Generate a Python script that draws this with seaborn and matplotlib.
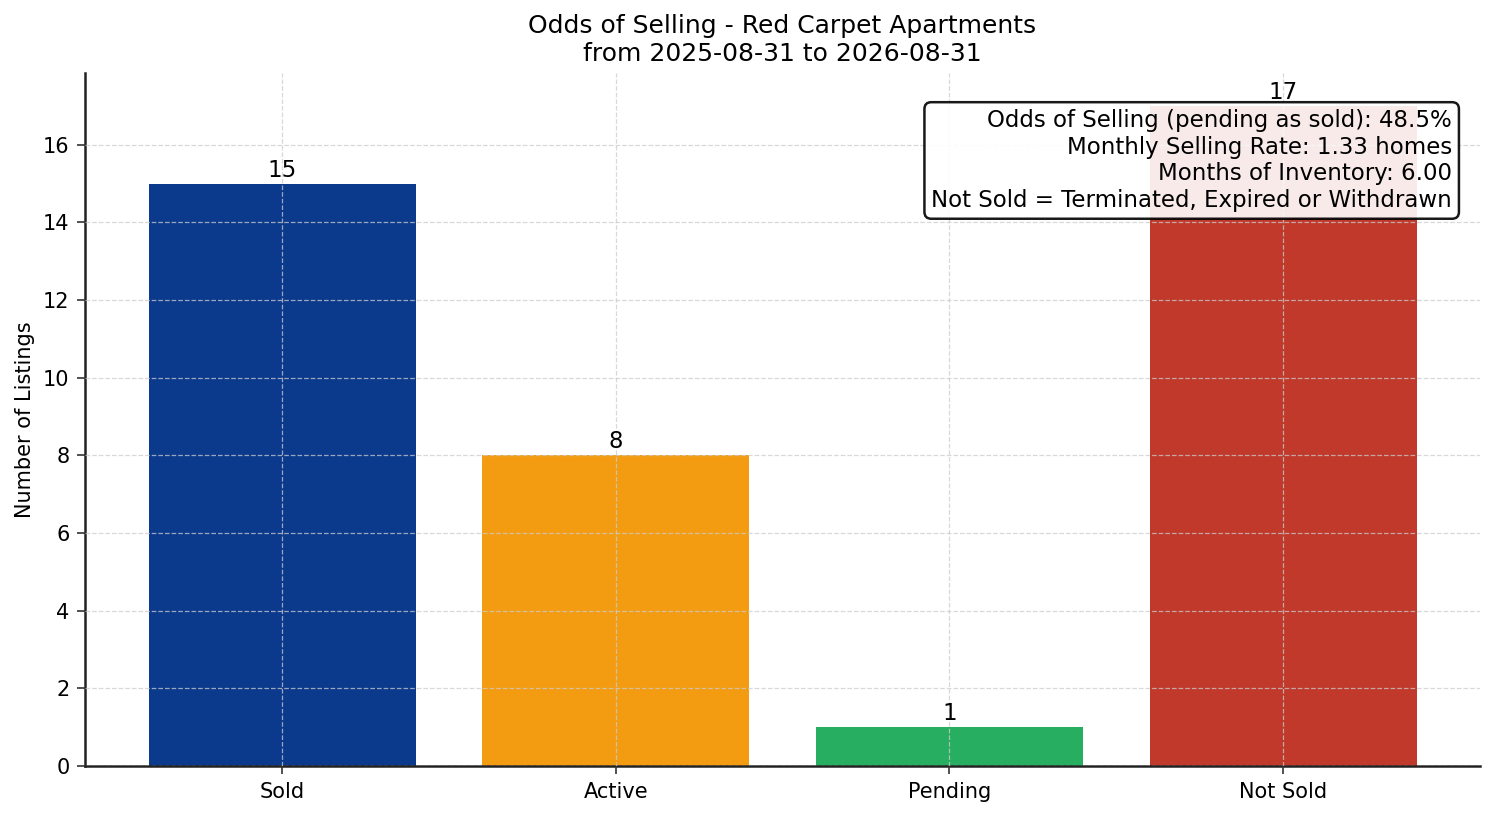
import matplotlib
matplotlib.use("Agg")
import matplotlib.pyplot as plt
import seaborn as sns
import pandas as pd

# Chart data
categories = ["Sold", "Active", "Pending", "Not Sold"]
counts = [15, 8, 1, 17]
bar_colors = ["#0b3a8d", "#f39c12", "#27ae60", "#c0392b"]

odds_selling = 48.5
monthly_rate = 1.33
months_inventory = 6.00

df = pd.DataFrame({"Status": categories, "Listings": counts})

sns.set_style("white")
plt.rcParams['font.family'] = ['DejaVu Sans']
plt.rcParams['text.color'] = 'black'
plt.rcParams['axes.labelcolor'] = 'black'
plt.rcParams['xtick.color'] = 'black'
plt.rcParams['ytick.color'] = 'black'

fig, ax = plt.subplots(figsize=(9.96, 5.44), dpi=150)
fig.subplots_adjust(left=0.057, right=0.9906, bottom=0.0613, top=0.9105)

sns.barplot(data=df, x="Status", y="Listings", hue="Status", palette=bar_colors,
            width=0.8, saturation=1, legend=False, linewidth=0, ax=ax)

# Count labels above each bar
for container in ax.containers:
    ax.bar_label(container, fontsize=11, padding=1, color="black")

ax.set_xlim(-0.59, 3.59)
ax.set_ylim(0, max(counts) * 1.05)
ax.set_title("Odds of Selling - Red Carpet Apartments\nfrom 2025-08-31 to 2026-08-31",
             fontsize=12, color="black")
ax.set_xlabel("")
ax.set_ylabel("Number of Listings", fontsize=10)
ax.tick_params(axis="both", labelsize=10, length=4, color="#333333", left=True, bottom=True)

ax.grid(True, linestyle="--", linewidth=0.6, color="#cccccc", alpha=0.75)
ax.set_axisbelow(False)
sns.despine(ax=ax)
for side in ["left", "bottom"]:
    ax.spines[side].set_color("#222222")
    ax.spines[side].set_linewidth(1.2)

summary = (f"Odds of Selling (pending as sold): {odds_selling:.1f}%\n"
           f"Monthly Selling Rate: {monthly_rate:.2f} homes\n"
           f"Months of Inventory: {months_inventory:.2f}\n"
           "Not Sold = Terminated, Expired or Withdrawn")
ax.text(0.98, 0.948, summary, transform=ax.transAxes, ha="right", va="top",
        fontsize=11, zorder=10, color="black",
        bbox=dict(boxstyle="round,pad=0.3", facecolor="white", edgecolor="black",
                  linewidth=1.2, alpha=0.9))

fig.savefig("out.png", dpi=150)
